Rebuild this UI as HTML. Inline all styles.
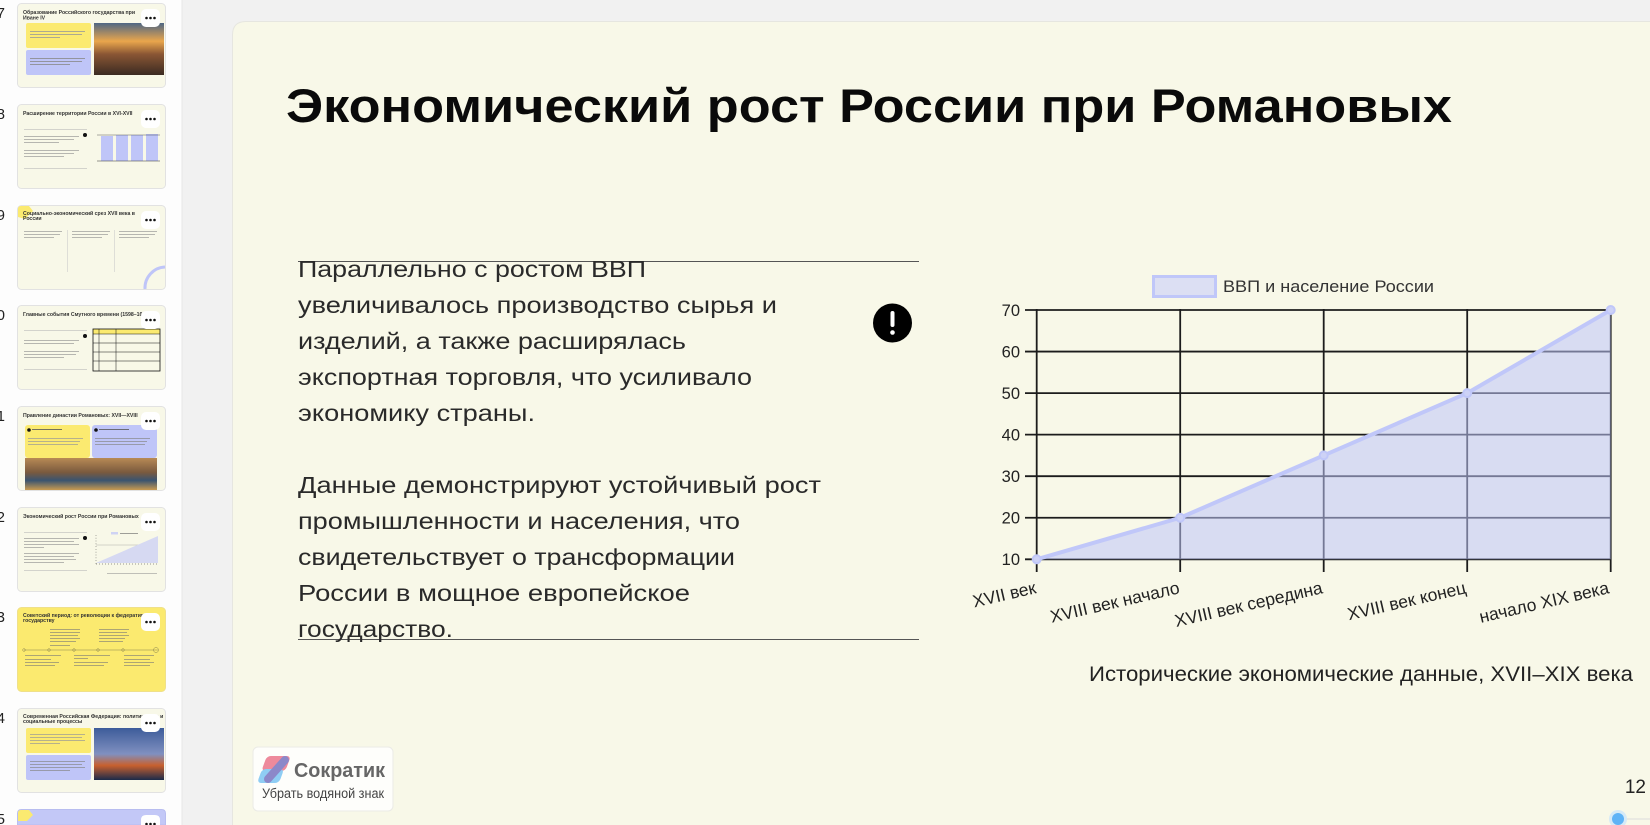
<!DOCTYPE html>
<html><head><meta charset="utf-8">
<style>
html,body{margin:0;padding:0;background:#f1f1f1;}
body{width:1650px;height:825px;overflow:hidden;}
svg{display:block;}
text{font-family:"Liberation Sans","Noto Sans CJK SC",sans-serif;}
</style></head>
<body>
<svg width="1650" height="825" viewBox="0 0 1650 825" xmlns="http://www.w3.org/2000/svg">
<defs>
  <linearGradient id="img7" x1="0" y1="0" x2="0" y2="1">
    <stop offset="0" stop-color="#4f6784"/><stop offset="0.35" stop-color="#e9a64c"/>
    <stop offset="0.6" stop-color="#8a5634"/><stop offset="1" stop-color="#3b2b22"/>
  </linearGradient>
  <linearGradient id="img11" x1="0" y1="0" x2="0" y2="1">
    <stop offset="0" stop-color="#b88a55"/><stop offset="0.45" stop-color="#7a5a3e"/>
    <stop offset="0.7" stop-color="#3a5470"/><stop offset="1" stop-color="#c89a50"/>
  </linearGradient>
  <linearGradient id="img14" x1="0" y1="0" x2="0" y2="1">
    <stop offset="0" stop-color="#3d5c9a"/><stop offset="0.5" stop-color="#8090c0"/>
    <stop offset="0.72" stop-color="#c8602e"/><stop offset="1" stop-color="#1b2a4a"/>
  </linearGradient>
</defs>

<!-- sidebar -->
<rect x="0" y="0" width="182" height="825" fill="#fdfdfd"/>
<line x1="182" y1="0" x2="182" y2="825" stroke="#e6e6e6" stroke-width="1"/>
<rect x="182.5" y="0" width="1467.5" height="825" fill="#f1f1f1"/>

<!-- slide numbers -->
<g font-size="15" fill="#222" text-anchor="end">
  <text x="5" y="18">7</text>
  <text x="5" y="119">8</text>
  <text x="5" y="220">9</text>
  <text x="5" y="320">10</text>
  <text x="5" y="421">11</text>
  <text x="5" y="522">12</text>
  <text x="5" y="622">13</text>
  <text x="5" y="723">14</text>
  <text x="5" y="824">15</text>
</g>

<!-- thumb 7 -->
<g transform="translate(17,3)">
  <rect x="0.5" y="0.5" width="148" height="84" rx="4" fill="#f8f8e8" stroke="#e2e2e2"/>
  <text x="6" y="11" font-size="5.2" font-weight="bold" fill="#333">Образование Российского государства при</text>
  <text x="6" y="16.5" font-size="5.2" font-weight="bold" fill="#333">Иване IV</text>
  <rect x="9" y="20" width="65" height="25" rx="2" fill="#fbea70"/>
  <rect x="13" y="28" width="55" height="0.8" fill="#999"/><rect x="13" y="31" width="52" height="0.8" fill="#999"/><rect x="13" y="34" width="30" height="0.8" fill="#999"/>
  <rect x="9" y="47" width="65" height="25" rx="2" fill="#bfc5f8"/>
  <rect x="13" y="55" width="55" height="0.8" fill="#888"/><rect x="13" y="58" width="52" height="0.8" fill="#888"/><rect x="13" y="61" width="40" height="0.8" fill="#888"/>
  <rect x="77" y="20" width="70" height="52" fill="url(#img7)"/>
  <rect x="124" y="6" width="19" height="18" rx="5" fill="#fff"/>
  <circle cx="129.5" cy="15" r="1.3" fill="#111"/><circle cx="133.5" cy="15" r="1.3" fill="#111"/><circle cx="137.5" cy="15" r="1.3" fill="#111"/>
</g>
<!-- thumb 8 -->
<g transform="translate(17,104)">
  <rect x="0.5" y="0.5" width="148" height="84" rx="4" fill="#f8f8e8" stroke="#e2e2e2"/>
  <text x="6" y="11" font-size="5.2" font-weight="bold" fill="#333">Расширение территории России в XVI-XVII</text>
  <rect x="7" y="25" width="63" height="0.6" fill="#bbb"/><rect x="7" y="64" width="63" height="0.6" fill="#bbb"/>
  <rect x="7" y="32" width="55" height="0.7" fill="#999"/><rect x="7" y="35" width="50" height="0.7" fill="#999"/><rect x="7" y="38" width="35" height="0.7" fill="#999"/>
  <rect x="7" y="46" width="55" height="0.7" fill="#999"/><rect x="7" y="49" width="50" height="0.7" fill="#999"/><rect x="7" y="52" width="40" height="0.7" fill="#999"/>
  <circle cx="68" cy="31" r="2" fill="#111"/>
  <rect x="84" y="32" width="12" height="25" fill="#bfc5f8"/><rect x="99" y="31" width="12" height="26" fill="#bfc5f8"/>
  <rect x="114" y="31" width="12" height="26" fill="#bfc5f8"/><rect x="129" y="30" width="12" height="27" fill="#bfc5f8"/>
  <line x1="80" y1="31" x2="143" y2="31" stroke="#333" stroke-width="0.4"/><line x1="80" y1="57" x2="143" y2="57" stroke="#333" stroke-width="0.6"/>
  <rect x="124" y="6" width="19" height="18" rx="5" fill="#fff"/>
  <circle cx="129.5" cy="15" r="1.3" fill="#111"/><circle cx="133.5" cy="15" r="1.3" fill="#111"/><circle cx="137.5" cy="15" r="1.3" fill="#111"/>
</g>
<!-- thumb 9 -->
<g transform="translate(17,205)">
  <rect x="0.5" y="0.5" width="148" height="84" rx="4" fill="#f8f8e8" stroke="#e2e2e2"/>
  <path d="M1 4 Q1 1 4 1 L12 1 L16 6 L8 14 L1 12 Z" fill="#fbea70"/>
  <text x="6" y="10" font-size="5.2" font-weight="bold" fill="#333">Социально-экономический срез XVII века в</text>
  <text x="6" y="15" font-size="5.2" font-weight="bold" fill="#333">России</text>
  <rect x="50" y="25" width="0.6" height="42" fill="#ccc"/><rect x="97" y="25" width="0.6" height="42" fill="#ccc"/>
  <rect x="7" y="26" width="38" height="0.7" fill="#999"/><rect x="7" y="29" width="36" height="0.7" fill="#999"/><rect x="7" y="32" width="30" height="0.7" fill="#999"/>
  <rect x="55" y="26" width="38" height="0.7" fill="#999"/><rect x="55" y="29" width="36" height="0.7" fill="#999"/><rect x="55" y="32" width="30" height="0.7" fill="#999"/>
  <rect x="102" y="26" width="38" height="0.7" fill="#999"/><rect x="102" y="29" width="36" height="0.7" fill="#999"/><rect x="102" y="32" width="30" height="0.7" fill="#999"/>
  <path d="M128 84 A21 21 0 0 1 148 62" fill="none" stroke="#bfc5f8" stroke-width="3"/>
  <rect x="124" y="6" width="19" height="18" rx="5" fill="#fff"/>
  <circle cx="129.5" cy="15" r="1.3" fill="#111"/><circle cx="133.5" cy="15" r="1.3" fill="#111"/><circle cx="137.5" cy="15" r="1.3" fill="#111"/>
</g>
<!-- thumb 10 -->
<g transform="translate(17,305)">
  <rect x="0.5" y="0.5" width="148" height="84" rx="4" fill="#f8f8e8" stroke="#e2e2e2"/>
  <text x="6" y="11" font-size="5.2" font-weight="bold" fill="#333">Главные события Смутного времени (1598–1613)</text>
  <rect x="7" y="25" width="63" height="0.6" fill="#bbb"/><rect x="7" y="64" width="63" height="0.6" fill="#bbb"/>
  <rect x="7" y="35" width="55" height="0.7" fill="#999"/><rect x="7" y="38" width="50" height="0.7" fill="#999"/>
  <rect x="7" y="46" width="55" height="0.7" fill="#999"/><rect x="7" y="49" width="52" height="0.7" fill="#999"/><rect x="7" y="52" width="40" height="0.7" fill="#999"/>
  <circle cx="68" cy="31" r="2" fill="#111"/>
  <rect x="76" y="24" width="67" height="5" fill="#fbea70"/>
  <rect x="76" y="24" width="67" height="42" fill="none" stroke="#111" stroke-width="0.8"/>
  <line x1="76" y1="29" x2="143" y2="29" stroke="#111" stroke-width="0.5"/>
  <line x1="76" y1="38" x2="143" y2="38" stroke="#111" stroke-width="0.5"/>
  <line x1="76" y1="47" x2="143" y2="47" stroke="#111" stroke-width="0.5"/>
  <line x1="76" y1="56" x2="143" y2="56" stroke="#111" stroke-width="0.5"/>
  <line x1="82" y1="24" x2="82" y2="66" stroke="#111" stroke-width="0.5"/>
  <line x1="99" y1="24" x2="99" y2="66" stroke="#111" stroke-width="0.5"/>
  <rect x="124" y="6" width="19" height="18" rx="5" fill="#fff"/>
  <circle cx="129.5" cy="15" r="1.3" fill="#111"/><circle cx="133.5" cy="15" r="1.3" fill="#111"/><circle cx="137.5" cy="15" r="1.3" fill="#111"/>
</g>
<!-- thumb 11 -->
<g transform="translate(17,406)">
  <rect x="0.5" y="0.5" width="148" height="84" rx="4" fill="#f8f8e8" stroke="#e2e2e2"/>
  <text x="6" y="11" font-size="5.2" font-weight="bold" fill="#333">Правление династии Романовых: XVII—XVIII</text>
  <rect x="8" y="19" width="65" height="33" rx="3" fill="#fbea70"/>
  <rect x="75" y="19" width="65" height="33" rx="3" fill="#bfc5f8"/>
  <circle cx="12" cy="24" r="1.8" fill="#111"/><circle cx="79" cy="24" r="1.8" fill="#111"/>
  <rect x="15" y="23" width="30" height="0.8" fill="#555"/><rect x="82" y="23" width="30" height="0.8" fill="#555"/>
  <rect x="11" y="32" width="55" height="0.7" fill="#999"/><rect x="11" y="35" width="52" height="0.7" fill="#999"/><rect x="11" y="38" width="50" height="0.7" fill="#999"/>
  <rect x="78" y="32" width="55" height="0.7" fill="#888"/><rect x="78" y="35" width="52" height="0.7" fill="#888"/><rect x="78" y="38" width="50" height="0.7" fill="#888"/>
  <rect x="8" y="52" width="132" height="32" fill="url(#img11)"/>
  <rect x="124" y="6" width="19" height="18" rx="5" fill="#fff"/>
  <circle cx="129.5" cy="15" r="1.3" fill="#111"/><circle cx="133.5" cy="15" r="1.3" fill="#111"/><circle cx="137.5" cy="15" r="1.3" fill="#111"/>
</g>
<!-- thumb 12 -->
<g transform="translate(17,507)">
  <rect x="0.5" y="0.5" width="148" height="84" rx="4" fill="#f8f8e8" stroke="#e2e2e2"/>
  <text x="6" y="11" font-size="5.2" font-weight="bold" fill="#333">Экономический рост России при Романовых</text>
  <rect x="7" y="25" width="63" height="0.6" fill="#bbb"/><rect x="7" y="63" width="63" height="0.6" fill="#bbb"/>
  <rect x="7" y="31" width="55" height="0.7" fill="#999"/><rect x="7" y="34" width="50" height="0.7" fill="#999"/><rect x="7" y="37" width="55" height="0.7" fill="#999"/><rect x="7" y="40" width="20" height="0.7" fill="#999"/>
  <rect x="7" y="46" width="55" height="0.7" fill="#999"/><rect x="7" y="49" width="50" height="0.7" fill="#999"/><rect x="7" y="52" width="52" height="0.7" fill="#999"/><rect x="7" y="55" width="40" height="0.7" fill="#999"/>
  <circle cx="68" cy="31" r="2" fill="#111"/>
  <rect x="94" y="25" width="7" height="2.5" fill="#cfd3f3"/><rect x="103" y="26" width="18" height="0.7" fill="#777"/>
  <line x1="79" y1="38" x2="141" y2="38" stroke="#999" stroke-width="0.4"/>
  <polygon points="79,56 141,29 141,56" fill="#d6d9f2"/>
  <line x1="79" y1="28" x2="79" y2="57" stroke="#333" stroke-width="0.5" stroke-dasharray="0.8,2"/>
  <line x1="79" y1="57" x2="142" y2="57" stroke="#333" stroke-width="0.5" stroke-dasharray="1,2"/>
  <rect x="90" y="66" width="50" height="0.6" fill="#999"/>
  <rect x="124" y="6" width="19" height="18" rx="5" fill="#fff"/>
  <circle cx="129.5" cy="15" r="1.3" fill="#111"/><circle cx="133.5" cy="15" r="1.3" fill="#111"/><circle cx="137.5" cy="15" r="1.3" fill="#111"/>
</g>
<!-- thumb 13 -->
<g transform="translate(17,607)">
  <rect x="0.5" y="0.5" width="148" height="84" rx="4" fill="#fbea6f" stroke="#efe08a"/>
  <text x="6" y="10" font-size="5.2" font-weight="bold" fill="#333">Советский период: от революции к федеративному</text>
  <text x="6" y="15" font-size="5.2" font-weight="bold" fill="#333">государству</text>
  <line x1="7" y1="43" x2="141" y2="43" stroke="#8a8450" stroke-width="0.6"/>
  <circle cx="7" cy="43" r="1.3" fill="none" stroke="#8a8450" stroke-width="0.5"/>
  <circle cx="32" cy="43" r="1.3" fill="none" stroke="#8a8450" stroke-width="0.5"/>
  <circle cx="57" cy="43" r="1.3" fill="none" stroke="#8a8450" stroke-width="0.5"/>
  <circle cx="81" cy="43" r="1.3" fill="none" stroke="#8a8450" stroke-width="0.5"/>
  <circle cx="106" cy="43" r="1.3" fill="none" stroke="#8a8450" stroke-width="0.5"/>
  <circle cx="139" cy="43" r="2.5" fill="none" stroke="#8a8450" stroke-width="0.5"/>
  <rect x="33" y="22" width="30" height="0.6" fill="#777"/><rect x="33" y="25" width="30" height="0.6" fill="#777"/><rect x="33" y="28" width="28" height="0.6" fill="#777"/><rect x="33" y="31" width="30" height="0.6" fill="#777"/><rect x="33" y="34" width="26" height="0.6" fill="#777"/><rect x="33" y="38" width="20" height="0.6" fill="#777"/>
  <rect x="82" y="22" width="30" height="0.6" fill="#777"/><rect x="82" y="25" width="28" height="0.6" fill="#777"/><rect x="82" y="28" width="30" height="0.6" fill="#777"/><rect x="82" y="31" width="26" height="0.6" fill="#777"/><rect x="82" y="34" width="24" height="0.6" fill="#777"/>
  <rect x="8" y="48" width="36" height="0.6" fill="#777"/><rect x="8" y="52" width="26" height="0.6" fill="#777"/><rect x="8" y="55" width="34" height="0.6" fill="#777"/><rect x="8" y="58" width="30" height="0.6" fill="#777"/>
  <rect x="57" y="48" width="36" height="0.6" fill="#777"/><rect x="57" y="51" width="14" height="0.6" fill="#777"/><rect x="57" y="55" width="34" height="0.6" fill="#777"/><rect x="57" y="58" width="30" height="0.6" fill="#777"/>
  <rect x="107" y="48" width="30" height="0.6" fill="#777"/><rect x="107" y="52" width="26" height="0.6" fill="#777"/><rect x="107" y="55" width="30" height="0.6" fill="#777"/><rect x="107" y="58" width="26" height="0.6" fill="#777"/>
  <rect x="124" y="6" width="19" height="18" rx="5" fill="#fff"/>
  <circle cx="129.5" cy="15" r="1.3" fill="#111"/><circle cx="133.5" cy="15" r="1.3" fill="#111"/><circle cx="137.5" cy="15" r="1.3" fill="#111"/>
</g>
<!-- thumb 14 -->
<g transform="translate(17,708)">
  <rect x="0.5" y="0.5" width="148" height="84" rx="4" fill="#f8f8e8" stroke="#e2e2e2"/>
  <text x="6" y="10" font-size="5.2" font-weight="bold" fill="#333">Современная Российская Федерация: политические и</text>
  <text x="6" y="15" font-size="5.2" font-weight="bold" fill="#333">социальные процессы</text>
  <rect x="9" y="20" width="65" height="25" rx="2" fill="#fbea70"/>
  <rect x="13" y="26" width="55" height="0.7" fill="#999"/><rect x="13" y="29" width="52" height="0.7" fill="#999"/><rect x="13" y="32" width="55" height="0.7" fill="#999"/><rect x="13" y="35" width="30" height="0.7" fill="#999"/>
  <rect x="9" y="47" width="65" height="25" rx="2" fill="#bfc5f8"/>
  <rect x="13" y="53" width="55" height="0.7" fill="#888"/><rect x="13" y="56" width="52" height="0.7" fill="#888"/><rect x="13" y="59" width="55" height="0.7" fill="#888"/><rect x="13" y="62" width="40" height="0.7" fill="#888"/>
  <rect x="77" y="20" width="70" height="52" fill="url(#img14)"/>
  <rect x="124" y="6" width="19" height="18" rx="5" fill="#fff"/>
  <circle cx="129.5" cy="15" r="1.3" fill="#111"/><circle cx="133.5" cy="15" r="1.3" fill="#111"/><circle cx="137.5" cy="15" r="1.3" fill="#111"/>
</g>
<!-- thumb 15 (clipped at bottom) -->
<g transform="translate(17,809)">
  <path d="M0.5 16 L0.5 4.5 Q0.5 0.5 4.5 0.5 L144.5 0.5 Q148.5 0.5 148.5 4.5 L148.5 16 Z" fill="#c3c8f7" stroke="#b8bdf0"/>
  <path d="M1 4 Q1 1 4 1 L12 1 L16 6 L10 12 L1 12 Z" fill="#fbea70"/>
  <path d="M124 16 L124 11 Q124 6 129 6 L138 6 Q143 6 143 11 L143 16 Z" fill="#fff"/>
  <circle cx="129.5" cy="15" r="1.3" fill="#111"/><circle cx="133.5" cy="15" r="1.3" fill="#111"/><circle cx="137.5" cy="15" r="1.3" fill="#111"/>
</g>

<!-- main slide card (top corners rounded, extends past frame) -->
<path d="M232.5 835 L232.5 35 Q232.5 21.5 246 21.5 L1660 21.5 L1660 835 Z" fill="#f8f8e8" stroke="#e6e6e0" stroke-width="1"/>

<!-- title -->
<text x="286" y="122" font-size="47" font-weight="bold" fill="#0a0a0a" textLength="1166" lengthAdjust="spacingAndGlyphs">Экономический рост России при Романовых</text>

<!-- text block -->
<line x1="298" y1="261.5" x2="919" y2="261.5" stroke="#555" stroke-width="1"/>
<line x1="298" y1="639.5" x2="919" y2="639.5" stroke="#555" stroke-width="1"/>
<g font-size="23" fill="#2a2a2a">
  <text x="298" y="277" textLength="348" lengthAdjust="spacingAndGlyphs">Параллельно с ростом ВВП</text>
  <text x="298" y="313" textLength="479" lengthAdjust="spacingAndGlyphs">увеличивалось производство сырья и</text>
  <text x="298" y="349" textLength="388" lengthAdjust="spacingAndGlyphs">изделий, а также расширялась</text>
  <text x="298" y="385" textLength="454" lengthAdjust="spacingAndGlyphs">экспортная торговля, что усиливало</text>
  <text x="298" y="421" textLength="237" lengthAdjust="spacingAndGlyphs">экономику страны.</text>
  <text x="298" y="493" textLength="523" lengthAdjust="spacingAndGlyphs">Данные демонстрируют устойчивый рост</text>
  <text x="298" y="529" textLength="442" lengthAdjust="spacingAndGlyphs">промышленности и населения, что</text>
  <text x="298" y="565" textLength="437" lengthAdjust="spacingAndGlyphs">свидетельствует о трансформации</text>
  <text x="298" y="601" textLength="392" lengthAdjust="spacingAndGlyphs">России в мощное европейское</text>
  <text x="298" y="637" textLength="155" lengthAdjust="spacingAndGlyphs">государство.</text>
</g>

<!-- exclamation icon -->
<circle cx="892.5" cy="323" r="19.5" fill="#000"/>
<rect x="890.5" y="311" width="4" height="16" rx="2" fill="#fff"/>
<circle cx="892.5" cy="332.5" r="2.3" fill="#fff"/>

<!-- chart legend -->
<rect x="1153.5" y="276.5" width="62" height="20" fill="#dcdff3" stroke="#c0c7f9" stroke-width="3"/>
<text x="1223" y="292" font-size="17" fill="#333" textLength="211" lengthAdjust="spacingAndGlyphs">ВВП и население России</text>

<!-- grid -->
<g stroke="#1c1c1c" stroke-width="1.8">
  <line x1="1025" y1="310" x2="1610.7" y2="310"/>
  <line x1="1025" y1="351.55" x2="1610.7" y2="351.55"/>
  <line x1="1025" y1="393.1" x2="1610.7" y2="393.1"/>
  <line x1="1025" y1="434.65" x2="1610.7" y2="434.65"/>
  <line x1="1025" y1="476.2" x2="1610.7" y2="476.2"/>
  <line x1="1025" y1="517.75" x2="1610.7" y2="517.75"/>
  <line x1="1025" y1="559.3" x2="1610.7" y2="559.3"/>
  <line x1="1036.7" y1="309" x2="1036.7" y2="572"/>
  <line x1="1180.2" y1="309" x2="1180.2" y2="572"/>
  <line x1="1323.7" y1="309" x2="1323.7" y2="572"/>
  <line x1="1467.2" y1="309" x2="1467.2" y2="572"/>
  <line x1="1610.7" y1="309" x2="1610.7" y2="572"/>
</g>

<!-- y labels -->
<g font-size="16.5" fill="#222" text-anchor="end">
  <text x="1020" y="315.8">70</text>
  <text x="1020" y="357.3">60</text>
  <text x="1020" y="398.9">50</text>
  <text x="1020" y="440.4">40</text>
  <text x="1020" y="482">30</text>
  <text x="1020" y="523.5">20</text>
  <text x="1020" y="565.1">10</text>
</g>

<!-- area + line -->
<polygon points="1036.7,559.3 1180.2,517.75 1323.7,455.4 1467.2,393.1 1610.7,310 1610.7,559.3" fill="rgba(190,197,250,0.55)"/>
<polyline points="1036.7,559.3 1180.2,517.75 1323.7,455.4 1467.2,393.1 1610.7,310" fill="none" stroke="#c0c7f9" stroke-width="4" stroke-linejoin="round"/>
<g fill="#cdd2f6" stroke="#c0c7f9" stroke-width="2">
  <circle cx="1036.7" cy="559.3" r="4"/>
  <circle cx="1180.2" cy="517.75" r="4"/>
  <circle cx="1323.7" cy="455.4" r="4"/>
  <circle cx="1467.2" cy="393.1" r="4"/>
  <circle cx="1610.7" cy="310" r="4"/>
</g>

<!-- x labels -->
<g font-size="17.5" fill="#222" text-anchor="end">
  <text transform="translate(1037,593) rotate(-13)">XVII век</text>
  <text transform="translate(1180.5,593) rotate(-13)">XVIII век начало</text>
  <text transform="translate(1323.5,593) rotate(-13)">XVIII век середина</text>
  <text transform="translate(1467,593) rotate(-13)">XVIII век конец</text>
  <text transform="translate(1610,593) rotate(-13)">начало XIX века</text>
</g>

<!-- caption -->
<text x="1089" y="681" font-size="21" fill="#222" textLength="544" lengthAdjust="spacingAndGlyphs">Исторические экономические данные, XVII–XIX века</text>

<!-- watermark -->
<rect x="253" y="747" width="140" height="64" rx="5" fill="#fefefb" stroke="#ebebe6" stroke-width="1"/>
<rect x="266" y="756" width="24" height="15" rx="4" fill="#ee8a9c" transform="skewX(-20) translate(276,0)"/>
<rect x="261" y="769" width="22" height="14" rx="4" fill="#8fcdf4" transform="skewX(-20) translate(281,0)"/>
<line x1="285" y1="760" x2="268" y2="779" stroke="#8c88c9" stroke-width="8" stroke-linecap="round"/>
<text x="294" y="777" font-size="20" font-weight="bold" fill="#666" textLength="91" lengthAdjust="spacingAndGlyphs">Сократик</text>
<text x="262" y="798" font-size="13.5" fill="#444" textLength="122" lengthAdjust="spacingAndGlyphs">Убрать водяной знак</text>

<!-- page number -->
<text x="1646" y="793" font-size="19" fill="#222" text-anchor="end">12</text>

<!-- bottom-right slider dot -->
<line x1="1624" y1="819" x2="1650" y2="819" stroke="#dddddd" stroke-width="1"/>
<circle cx="1618" cy="819" r="9" fill="#d6eaf7"/>
<circle cx="1618" cy="819" r="6" fill="#5fb3f6"/>
</svg>
</body></html>
